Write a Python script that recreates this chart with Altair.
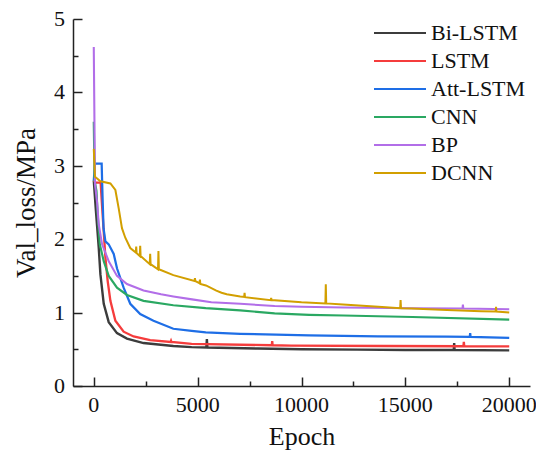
import altair as alt
import pandas as pd

SERIES = ["Bi-LSTM", "LSTM", "Att-LSTM", "CNN", "BP", "DCNN"]
COLORS = ["#3c3c3c", "#f53c3c", "#1e6ee6", "#2aa862", "#b26ee8", "#d29f00"]
WIDTHS = [2.4, 2, 2, 3.2, 2, 2.8]

bilstm_epoch = [0, 100, 240, 320, 480, 720, 1117, 1597, 2395, 3830, 4710, 5420, 5445, 5470, 7900,
                10000, 12700, 15000, 17330, 17350, 17370, 20000]
bilstm_val = [2.8, 2.4, 1.88, 1.52, 1.12, 0.87, 0.72, 0.645, 0.585, 0.545, 0.53, 0.525, 0.64, 0.525,
              0.51, 0.50, 0.495, 0.49, 0.49, 0.585, 0.49, 0.486]

lstm_epoch = [0, 100, 330, 400, 480, 560, 670, 800, 1040, 1437, 1915, 2715, 3700, 3720, 3740, 4710,
              8570, 8590, 8610, 9500, 14000, 17795, 17815, 17835, 20000]
lstm_val = [2.8, 2.77, 2.77, 2.45, 2.1, 1.75, 1.43, 1.16, 0.89, 0.74, 0.675, 0.625, 0.6, 0.615, 0.6,
            0.575, 0.555, 0.61, 0.555, 0.55, 0.545, 0.542, 0.6, 0.542, 0.54]

att_epoch = [0, 60, 380, 420, 470, 560, 720, 960, 1120, 1437, 1757, 2235, 2874, 3830, 4710, 5390,
             7050, 10365, 13680, 17000, 18100, 18120, 18140, 20000]
att_val = [2.8, 3.03, 3.03, 2.6, 2.15, 1.97, 1.93, 1.8, 1.6, 1.34, 1.12, 0.98, 0.89, 0.78, 0.75, 0.73,
           0.71, 0.69, 0.675, 0.672, 0.67, 0.72, 0.67, 0.656]

cnn_epoch = [0, 40, 130, 190, 290, 480, 720, 1117, 1597, 2395, 3830, 5390, 7050, 8706, 10365, 12020,
             15340, 20000]
cnn_val = [3.6, 2.8, 2.66, 2.33, 1.93, 1.70, 1.50, 1.34, 1.24, 1.16, 1.10, 1.06, 1.03, 0.99, 0.97,
           0.96, 0.94, 0.905]

bp_epoch = [0, 60, 160, 240, 400, 720, 1117, 1597, 2395, 3240, 3830, 4730, 5660, 7050, 8706, 10000,
            12020, 15340, 17750, 17770, 17790, 20000]
bp_val = [4.62, 2.75, 2.5, 2.2, 1.93, 1.70, 1.50, 1.39, 1.30, 1.25, 1.22, 1.18, 1.14, 1.12, 1.09, 1.08,
          1.07, 1.06, 1.055, 1.11, 1.055, 1.045]

dcnn_epoch = [0, 60, 320, 800, 1040, 1200, 1357, 1517, 1757, 2023, 2043, 2063, 2215, 2235, 2255,
              2695, 2715, 2735, 3093, 3113, 3133, 3830, 4850, 4870, 4890, 5090, 5110, 5130, 5400,
              5900, 6150, 6400, 7050, 7240, 7260, 7280, 8520, 8540, 8560, 10000, 11150, 11170, 11190,
              12000, 13700, 14750, 14770, 14790, 15300, 17000, 18650, 19345, 19365, 19385, 20000]
dcnn_val = [3.23, 2.85, 2.79, 2.76, 2.67, 2.42, 2.15, 2.02, 1.88, 1.82, 1.90, 1.81, 1.77, 1.91, 1.77,
            1.66, 1.80, 1.66, 1.59, 1.84, 1.59, 1.51, 1.43, 1.47, 1.43, 1.40, 1.45, 1.39, 1.37,
            1.30, 1.27, 1.25, 1.22, 1.215, 1.27, 1.21, 1.17, 1.20, 1.17, 1.14, 1.125, 1.385, 1.125,
            1.11, 1.08, 1.06, 1.17, 1.06, 1.055, 1.035, 1.02, 1.015, 1.08, 1.015, 1.0]

X_MAJOR = [0, 5000, 10000, 15000, 20000]
X_LABELS = ["0", "5000", "10000", "15000", "20000"]
X_MINOR = [2500, 7500, 12500, 17500]
Y_MAJOR = [0, 1, 2, 3, 4, 5]
Y_LABELS = ["0", "1", "2", "3", "4", "5"]
Y_MINOR = [0.5, 1.5, 2.5, 3.5, 4.5]

FONT = "Liberation Serif"
W, H = 457, 367
TOP = 11

rows = []
for name, ep, vals in [
    ("Bi-LSTM", bilstm_epoch, bilstm_val),
    ("LSTM", lstm_epoch, lstm_val),
    ("Att-LSTM", att_epoch, att_val),
    ("CNN", cnn_epoch, cnn_val),
    ("BP", bp_epoch, bp_val),
    ("DCNN", dcnn_epoch, dcnn_val),
]:
    for i, (e, v) in enumerate(zip(ep, vals)):
        rows.append({"series": name, "epoch": e, "loss": v, "idx": i})
df = pd.DataFrame(rows)

xscale = alt.Scale(domain=[-1000, 21000], nice=False, zero=False)
yscale = alt.Scale(domain=[0, 5], nice=False, zero=False)
color_scale = alt.Scale(domain=SERIES, range=COLORS)

lines = alt.Chart(df).mark_line(clip=True).encode(
    x=alt.X("epoch:Q", scale=xscale,
            axis=alt.Axis(values=X_MAJOR, ticks=False, labels=False, grid=False,
                          title="Epoch", orient="bottom",
                          titleFont=FONT, titleFontSize=26,
                          titleFontWeight="normal", titleColor="#111", titlePadding=37,
                          domainColor="#222", domainWidth=1.5)),
    y=alt.Y("loss:Q", scale=yscale,
            axis=alt.Axis(values=Y_MAJOR, ticks=False, labels=False, grid=False,
                          title="Val_loss/MPa", orient="left",
                          titleFont=FONT, titleFontSize=27,
                          titleFontWeight="normal", titleColor="#111", titlePadding=33,
                          domainColor="#222", domainWidth=1.5)),
    color=alt.Color("series:N", sort=SERIES, scale=color_scale, legend=None),
    strokeWidth=alt.StrokeWidth("series:N", legend=None,
                                scale=alt.Scale(domain=SERIES, range=WIDTHS)),
    order="idx:Q",
)

tick_df = pd.DataFrame({"epoch": [0], "loss": [0]})

major = alt.Chart(tick_df).mark_point(opacity=0).encode(
    x=alt.X("epoch:Q", scale=xscale,
            axis=alt.Axis(values=X_MAJOR, ticks=True, tickSize=9, tickWidth=1.5,
                          tickColor="#222", offset=-9, domain=False, labels=False,
                          grid=False, title=None, orient="bottom")),
    y=alt.Y("loss:Q", scale=yscale,
            axis=alt.Axis(values=Y_MAJOR, ticks=True, tickSize=9, tickWidth=1.5,
                          tickColor="#222", offset=-9, domain=False, labels=False,
                          grid=False, title=None, orient="left")),
)

minor = alt.Chart(tick_df).mark_point(opacity=0).encode(
    x=alt.X("epoch:Q", scale=xscale,
            axis=alt.Axis(values=X_MINOR, ticks=True, tickSize=5, tickWidth=1.5,
                          tickColor="#222", offset=-5, domain=False, labels=False,
                          grid=False, title=None, orient="bottom")),
    y=alt.Y("loss:Q", scale=yscale,
            axis=alt.Axis(values=Y_MINOR, ticks=True, tickSize=5, tickWidth=1.5,
                          tickColor="#222", offset=-5, domain=False, labels=False,
                          grid=False, title=None, orient="left")),
)

# tick labels, placed through the same scales
xlab_df = pd.DataFrame({"epoch": X_MAJOR, "label": X_LABELS})
ylab_df = pd.DataFrame({"loss": Y_MAJOR, "label": Y_LABELS})

x_labels = alt.Chart(xlab_df).mark_text(
    align="center", baseline="top", font=FONT, fontSize=22, color="#111"
).encode(
    x=alt.X("epoch:Q", scale=xscale, axis=None),
    y=alt.value(H + 9),
    text="label:N",
)

y_labels = alt.Chart(ylab_df).mark_text(
    align="right", baseline="middle", font=FONT, fontSize=22, color="#111"
).encode(
    x=alt.value(-8),
    y=alt.Y("loss:Q", scale=yscale, axis=None),
    text="label:N",
)

# legend built from the series list (line sample + label per row)
legend_df = pd.DataFrame({"series": SERIES})
legend_y = alt.Y("series:N", sort=SERIES, axis=None,
                 scale=alt.Scale(type="point", domain=SERIES, range=[14, 154], padding=0))

legend_lines = alt.Chart(legend_df).mark_rule(strokeWidth=2).encode(
    x=alt.value(301), x2=alt.value(353),
    y=legend_y,
    color=alt.Color("series:N", sort=SERIES, scale=color_scale, legend=None),
)

legend_text = alt.Chart(legend_df).mark_text(
    align="left", baseline="middle", font=FONT, fontSize=22, color="#111"
).encode(
    x=alt.value(358),
    y=legend_y,
    text="series:N",
)

chart = alt.layer(lines, major, minor, x_labels, y_labels, legend_lines, legend_text).resolve_scale(
    x="independent", y="independent"
).resolve_axis(
    x="independent", y="independent"
).properties(
    width=W, height=H,
    autosize=alt.AutoSizeParams(type="none"),
    padding={"left": 65, "top": TOP, "right": 528 - 65 - W, "bottom": 442 - TOP - H},
    background="white",
).configure(
    font=FONT
).configure_axis(
    labelFont=FONT, titleFont=FONT
).configure_view(strokeWidth=0)

chart.save("out.html", embed_options={"renderer": "svg", "actions": False})
